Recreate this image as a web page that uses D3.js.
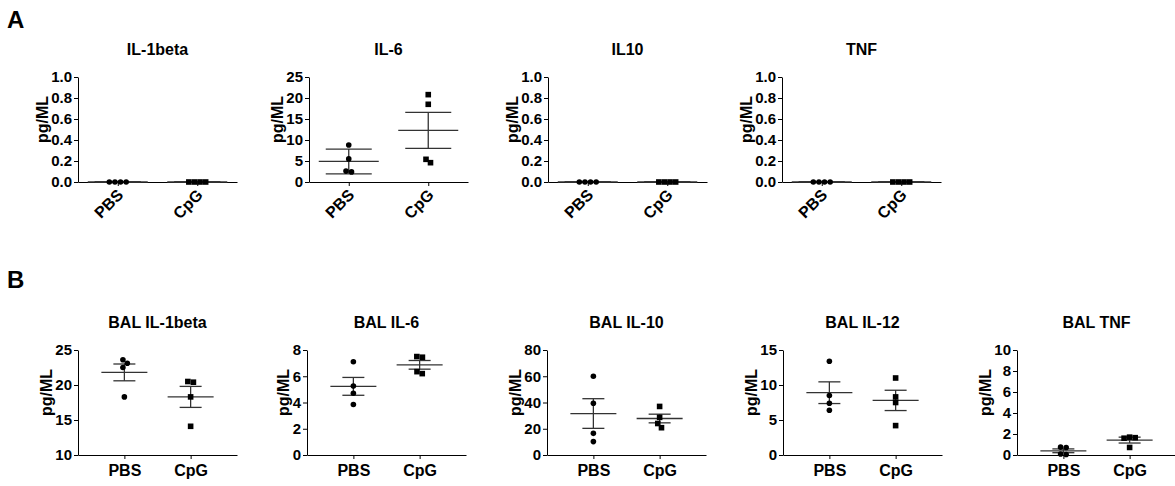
<!DOCTYPE html>
<html>
<head>
<meta charset="utf-8">
<script src="https://cdn.jsdelivr.net/npm/d3@7"></script>
<style>
  body { margin: 0; background: #fff; }
  svg text { font-family: "Liberation Sans", Arial, sans-serif; font-weight: bold; fill: #000; }
</style>
</head>
<body>
<div id="chart"></div>
<script>
const groups = ["PBS", "CpG"]

// A: serum
const titlesA = ["IL-1beta", "IL-6", "IL10", "TNF"]
const il1b_pbs = [0, 0, 0, 0], il1b_cpg = [0, 0, 0, 0]
const il6_pbs = [8.8, 5.5, 2.6, 2.4], il6_cpg = [20.8, 18.5, 5.4, 4.6]
const il10_pbs = [0, 0, 0, 0], il10_cpg = [0, 0, 0, 0]
const tnf_pbs = [0, 0, 0, 0], tnf_cpg = [0, 0, 0, 0]
const meansA = [[0, 0], [4.9, 12.3], [0, 0], [0, 0]]
const errsA = [[0, 0], [2.95, 4.3], [0, 0], [0, 0]]
const ticksA = [[0, 0.2, 0.4, 0.6, 0.8, 1.0], [0, 5, 10, 15, 20, 25], [0, 0.2, 0.4, 0.6, 0.8, 1.0], [0, 0.2, 0.4, 0.6, 0.8, 1.0]]

// B: BAL
const titlesB = ["BAL IL-1beta", "BAL IL-6", "BAL IL-10", "BAL IL-12", "BAL TNF"]
const bal_il1b_pbs = [23.6, 23.1, 22.5, 18.3], bal_il1b_cpg = [20.5, 20.4, 18.3, 14.1]
const bal_il6_pbs = [7.1, 5.25, 4.7, 3.85], bal_il6_cpg = [7.5, 7.45, 6.35, 6.2]
const bal_il10_pbs = [60, 39.4, 16.5, 10.2], bal_il10_cpg = [37, 28.7, 24, 20.8]
const bal_il12_pbs = [13.4, 8.5, 7.4, 6.4], bal_il12_cpg = [11, 8.3, 7.5, 4.2]
const bal_tnf_pbs = [0.75, 0.72, 0.1, 0.05], bal_tnf_cpg = [1.7, 1.65, 1.6, 0.72]
const meansB = [[21.8, 18.3], [5.23, 6.87], [31.6, 27.8], [8.9, 7.8], [0.4, 1.42]]
const errsB = [[1.2, 1.5], [0.68, 0.33], [11.3, 3.3], [1.55, 1.45], [0.18, 0.28]]
const ticksB = [[10, 15, 20, 25], [0, 2, 4, 6, 8], [0, 20, 40, 60, 80], [0, 5, 10, 15], [0, 2, 4, 6, 8, 10]]

const pointsA = [[il1b_pbs, il1b_cpg], [il6_pbs, il6_cpg], [il10_pbs, il10_cpg], [tnf_pbs, tnf_cpg]]
const pointsB = [[bal_il1b_pbs, bal_il1b_cpg], [bal_il6_pbs, bal_il6_cpg], [bal_il10_pbs, bal_il10_cpg],
  [bal_il12_pbs, bal_il12_cpg], [bal_tnf_pbs, bal_tnf_cpg]]

let svg = d3.select("#chart")
  .append("svg")
  .attr("width", 1175)
  .attr("height", 486)

const plotW = 159
const diam = 5.6

// horizontal spreading of overlapping points (centered per cluster)
function swarm(vals, y) {
  let pts = vals.map(v => ({ py: y(v), dx: 0 }))
  let placed = []
  pts.slice().sort((a, b) => a.py - b.py).forEach(p => {
    let near = placed.filter(q => Math.abs(q.py - p.py) < diam)
    let cands = [0]
    near.forEach(q => {
      let w = Math.sqrt(diam * diam - (q.py - p.py) ** 2)
      cands.push(q.dx + w + 0.01, q.dx - w - 0.01)
    })
    cands.sort((a, b) => Math.abs(a) - Math.abs(b))
    p.dx = cands.find(c => near.every(q => Math.hypot(q.dx - c, q.py - p.py) >= diam - 0.02))
    placed.push(p)
  })
  // center each connected cluster
  let seen = new Set()
  pts.forEach(p => {
    if (seen.has(p)) return
    let comp = [p], i = 0
    seen.add(p)
    while (i < comp.length) {
      let c = comp[i++]
      pts.forEach(q => {
        if (!seen.has(q) && Math.hypot(q.dx - c.dx, q.py - c.py) < diam + 0.5) { seen.add(q); comp.push(q) }
      })
    }
    let m = d3.mean(comp, d => d.dx)
    comp.forEach(d => d.dx -= m)
  })
  return pts
}

function drawChart(o) {
  let g = svg.append("g").attr("transform", `translate(${o.x},0)`)
  let y = d3.scaleLinear().domain([o.ticks[0], o.ticks[o.ticks.length - 1]]).range([o.bottom, o.top])
  let x = d3.scalePoint().domain(groups).range([0, plotW]).padding(o.pad)

  let gy = g.append("g")
    .call(d3.axisLeft(y).tickValues(o.ticks).tickFormat(o.fmt).tickSize(4).tickSizeOuter(0).tickPadding(2))
  gy.selectAll("text").attr("font-size", "15px").attr("font-family", null)

  let gx = g.append("g")
    .attr("transform", `translate(0,${o.bottom})`)
    .call(d3.axisBottom(x).tickSize(4).tickSizeOuter(0).tickPadding(3))
  gx.selectAll("text").attr("font-size", "16px").attr("font-family", null)
  if (o.rotate) {
    gx.selectAll("text")
      .attr("text-anchor", "end")
      .attr("dy", null)
      .attr("y", 0)
      .attr("transform", "translate(6,14) rotate(-45)")
  } else {
    gx.selectAll("text").attr("dy", "0.9em")
  }
  g.selectAll(".domain, .tick line").attr("stroke", "#000")

  // titel
  g.append("text")
    .attr("x", plotW / 2)
    .attr("y", o.top - 22)
    .attr("text-anchor", "middle")
    .attr("font-size", "16px")
    .text(o.title)

  // y label
  let bb = gy.node().getBBox()
  g.append("text")
    .attr("transform", `translate(${bb.x - 9},${(o.top + o.bottom) / 2 - 10}) rotate(-90)`)
    .attr("text-anchor", "middle")
    .attr("dy", "0.35em")
    .attr("font-size", "16px")
    .text("pg/ML")

  groups.forEach((grp, gi) => {
    let cx = x(grp)
    let m = o.means[gi], e = o.errs[gi]
    // mean and error bar
    let eg = g.append("g").attr("stroke", "#333").attr("stroke-width", 1.3)
    eg.append("line").attr("x1", cx - o.meanW / 2).attr("x2", cx + o.meanW / 2).attr("y1", y(m)).attr("y2", y(m))
    eg.append("line").attr("x1", cx).attr("x2", cx).attr("y1", y(m + e)).attr("y2", y(m - e))
    eg.append("line").attr("x1", cx - o.capW / 2).attr("x2", cx + o.capW / 2).attr("y1", y(m + e)).attr("y2", y(m + e))
    eg.append("line").attr("x1", cx - o.capW / 2).attr("x2", cx + o.capW / 2).attr("y1", y(m - e)).attr("y2", y(m - e))

    let pts = swarm(o.points[gi], y)
    if (gi == 0) {
      g.selectAll(null).data(pts).enter().append("circle")
        .attr("cx", d => cx + d.dx).attr("cy", d => d.py).attr("r", diam / 2).attr("fill", "#000")
    } else {
      g.selectAll(null).data(pts).enter().append("rect")
        .attr("x", d => cx + d.dx - diam / 2).attr("y", d => d.py - diam / 2)
        .attr("width", diam).attr("height", diam).attr("fill", "#000")
    }
  })
}

// panel labels
svg.append("text").attr("x", 7).attr("y", 28).attr("font-size", "24px").text("A")
svg.append("text").attr("x", 7).attr("y", 288).attr("font-size", "24px").text("B")

const xA = [78, 309, 548, 782]
titlesA.forEach((t, i) => {
  drawChart({
    x: xA[i], top: 77, bottom: 182, pad: 0.5, rotate: true,
    title: t, ticks: ticksA[i], fmt: i == 1 ? d3.format("d") : d3.format(".1f"),
    points: pointsA[i], means: meansA[i], errs: errsA[i],
    meanW: 60, capW: 46
  })
})

const xB = [78, 307, 547, 783, 1017]
titlesB.forEach((t, i) => {
  drawChart({
    x: xB[i], top: 350, bottom: 455, pad: 0.7, rotate: false,
    title: t, ticks: ticksB[i], fmt: d3.format("d"),
    points: pointsB[i], means: meansB[i], errs: errsB[i],
    meanW: 46, capW: 22
  })
})
</script>
</body>
</html>
